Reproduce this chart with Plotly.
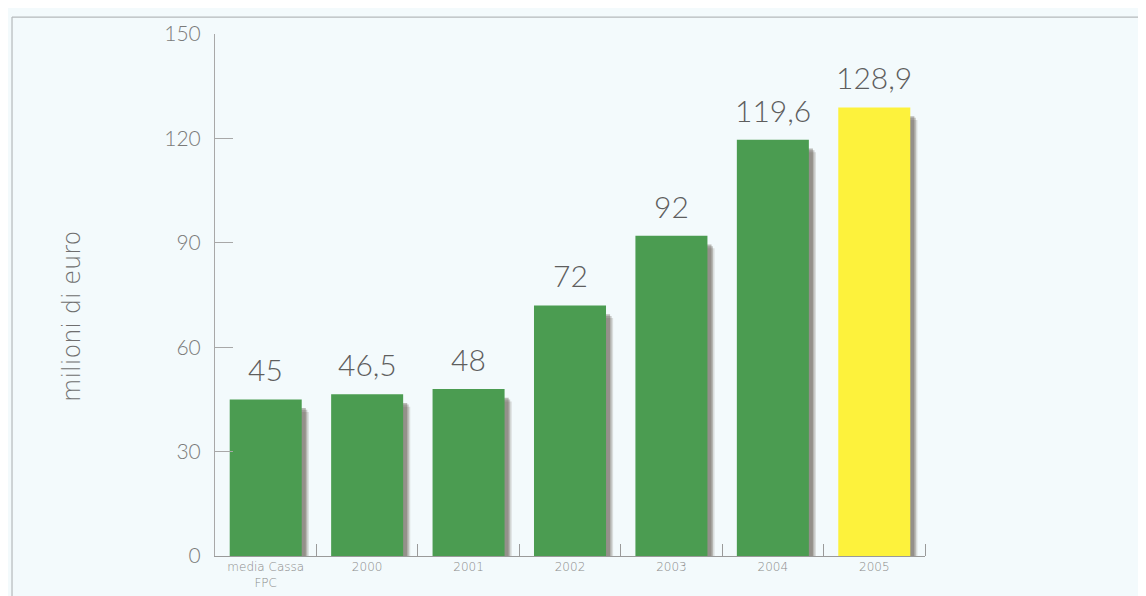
import plotly.graph_objects as go

categories = ["media Cassa<br>FPC", "2000", "2001", "2002", "2003", "2004", "2005"]
values = [45, 46.5, 48, 72, 92, 119.6, 128.9]
value_labels = ["45", "46,5", "48", "72", "92", "119,6", "128,9"]
bar_colors = ["#4b9c51"] * 6 + ["#fdf23c"]
y_ticks = [0, 30, 60, 90, 120, 150]
y_title = "milioni di euro"

FONT = "Lato"

fig = go.Figure()

# soft drop shadow behind the bars (layers to imitate blur)
for dx, a, ext in [(0.07, 0.18, 1.6), (0.055, 0.3, 1.0), (0.04, 0.4, 0.5)]:
    fig.add_trace(go.Bar(
        x=list(range(len(values))), y=[v - ext for v in values], base=-2.0,
        marker=dict(color=f"rgba(100,90,80,{a})", line=dict(width=0)),
        width=0.71, offset=-0.355 + dx,
        hoverinfo="skip", showlegend=False,
    ))
fig.add_trace(go.Bar(
    x=list(range(len(values))), y=values,
    marker=dict(color=bar_colors, line=dict(width=0)),
    width=0.71, offset=-0.355,
    showlegend=False,
))

for i, (v, t) in enumerate(zip(values, value_labels)):
    fig.add_annotation(x=i, y=v, text=t, showarrow=False, yanchor="bottom",
                       yshift=10, font=dict(family=FONT, size=30, color="#5e5e5e", weight=300))

# y-axis title
fig.add_annotation(xref="paper", yref="paper", x=-0.2014, y=0.458, text=y_title,
                   textangle=-90, showarrow=False, xanchor="center", yanchor="middle",
                   font=dict(family="DejaVu Sans", size=24, color="#6f6f6f", weight=200))

# frame lines
fig.add_shape(type="line", xref="paper", yref="paper", x0=-0.2859, x1=1.5, y0=1.0324, y1=1.0324,
              line=dict(color="#b5b9bb", width=1.2))
fig.add_shape(type="line", xref="paper", yref="paper", x0=-0.2859, x1=-0.2859, y0=1.0324, y1=-0.2,
              line=dict(color="#b5b9bb", width=1.2))

fig.update_layout(
    width=1146, height=596,
    margin=dict(l=207, r=229, t=24, b=48),
    paper_bgcolor="#f3fafc", plot_bgcolor="#f3fafc",
    barmode="overlay",
    font=dict(family=FONT, color="#6f6f6f"),
    xaxis=dict(
        range=[-0.5, 6.5],
        tickmode="array", tickvals=list(range(len(categories))), ticktext=categories,
        showline=True, linecolor="#9a9a9a", linewidth=1,
        ticks="", showgrid=False, zeroline=False,
        tickfont=dict(family="DejaVu Sans", size=12, color="#8a8a8a", weight=200),
        minor=dict(tickvals=[i + 0.5 for i in range(len(categories))], ticks="inside",
                   ticklen=12, tickcolor="#9a9a9a", showgrid=False),
    ),
    yaxis=dict(
        range=[0, 150], tickvals=y_ticks,
        showline=True, linecolor="#a8a8a8", linewidth=1,
        ticks="inside", ticklen=18, tickcolor="#a8a8a8",
        ticklabelstandoff=9,
        tickfont=dict(family=FONT, size=21, color="#7a7a7a", weight=300),
        showgrid=False, zeroline=False,
    ),
)

fig.write_html("out.html")
